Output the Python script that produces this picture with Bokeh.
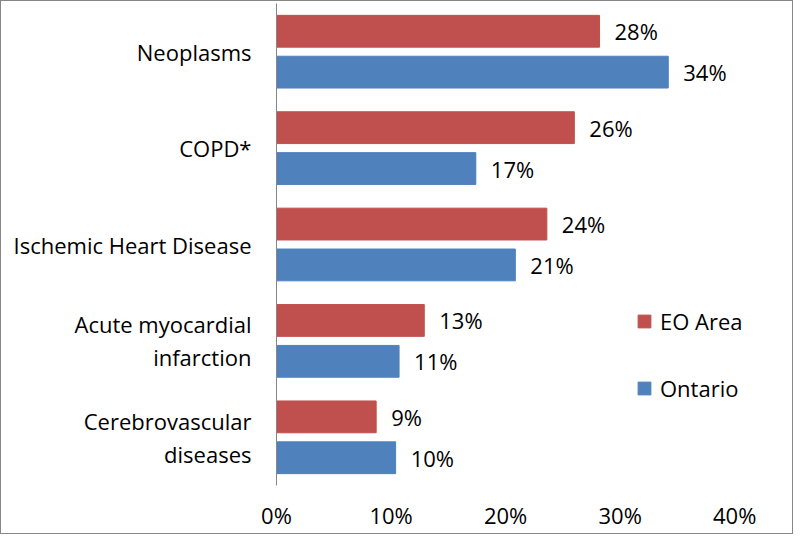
from bokeh.plotting import figure
from bokeh.models import ColumnDataSource, FactorRange, FixedTicker, PrintfTickFormatter, Range1d
from bokeh.transform import dodge
from bokeh.core.properties import value
from bokeh.embed import file_html
from bokeh.resources import INLINE

categories = ["Neoplasms", "COPD*", "Ischemic Heart Disease",
              "Acute myocardial\ninfarction", "Cerebrovascular\ndiseases"]
eo_area = [28.2, 26.0, 23.6, 12.9, 8.7]
ontario = [34.2, 17.4, 20.85, 10.7, 10.4]
eo_labels = ["28%", "26%", "24%", "13%", "9%"]
on_labels = ["34%", "17%", "21%", "11%", "10%"]
x_ticks = [0, 10, 20, 30, 40]

RED = "#C0504D"
BLUE = "#4F81BD"
FONT = "Open Sans"

src = ColumnDataSource(dict(cat=categories, eo=eo_area, on=ontario,
                            eol=eo_labels, onl=on_labels))

p = figure(frame_width=488, frame_height=482, output_backend="svg", toolbar_location=None,
           y_range=FactorRange(factors=list(reversed(categories))),
           x_range=Range1d(0, 42.6),
           min_border_left=275, min_border_right=28, min_border_top=2, min_border_bottom=48)
p.styles = {"border": "1px solid #868686"}
p.outline_line_color = None
p.grid.grid_line_color = None

off = 0.212
bh = 0.33
r1 = p.hbar(y=dodge("cat", off, range=p.y_range), right="eo", left=0, height=bh,
            source=src, fill_color=RED, line_color=RED, legend_label="EO Area")
r2 = p.hbar(y=dodge("cat", -off, range=p.y_range), right="on", left=0, height=bh,
            source=src, fill_color=BLUE, line_color=BLUE, legend_label="Ontario")

p.text(x="eo", y=dodge("cat", off, range=p.y_range), text="eol", source=src,
       x_offset=15, text_align="left", text_baseline="middle",
       text_font=value(FONT), text_font_size="22px", text_color="#000000")
p.text(x="on", y=dodge("cat", -off, range=p.y_range), text="onl", source=src,
       x_offset=15, text_align="left", text_baseline="middle",
       text_font=value(FONT), text_font_size="22px", text_color="#000000")

xa = p.xaxis[0]
xa.ticker = FixedTicker(ticks=x_ticks)
xa.formatter = PrintfTickFormatter(format="%d%%")
xa.axis_line_color = None
xa.major_tick_line_color = None
xa.minor_tick_line_color = None
xa.major_tick_out = 0
xa.major_tick_in = 0
xa.major_label_standoff = 14
xa.major_label_text_font = FONT
xa.major_label_text_font_size = "22px"
xa.major_label_text_color = "#000000"

ya = p.yaxis[0]
ya.axis_line_color = "#868686"
ya.axis_line_width = 1
ya.major_tick_line_color = None
ya.minor_tick_line_color = None
ya.major_tick_out = 0
ya.major_tick_in = 0
ya.major_label_standoff = 25
ya.major_label_text_font = FONT
ya.major_label_text_font_size = "22px"
ya.major_label_text_color = "#000000"
ya.major_label_text_line_height = 1.1

lg = p.legend[0]
lg.location = (360, 82)
lg.border_line_color = None
lg.background_fill_alpha = 0
lg.padding = 0
lg.margin = 0
lg.glyph_width = 16
lg.glyph_height = 16
lg.label_height = 30
lg.spacing = 37
lg.label_standoff = 8
lg.label_text_font = FONT
lg.label_text_font_size = "22px"
lg.label_text_color = "#000000"

open("out.html", "w").write(file_html(p, INLINE))
